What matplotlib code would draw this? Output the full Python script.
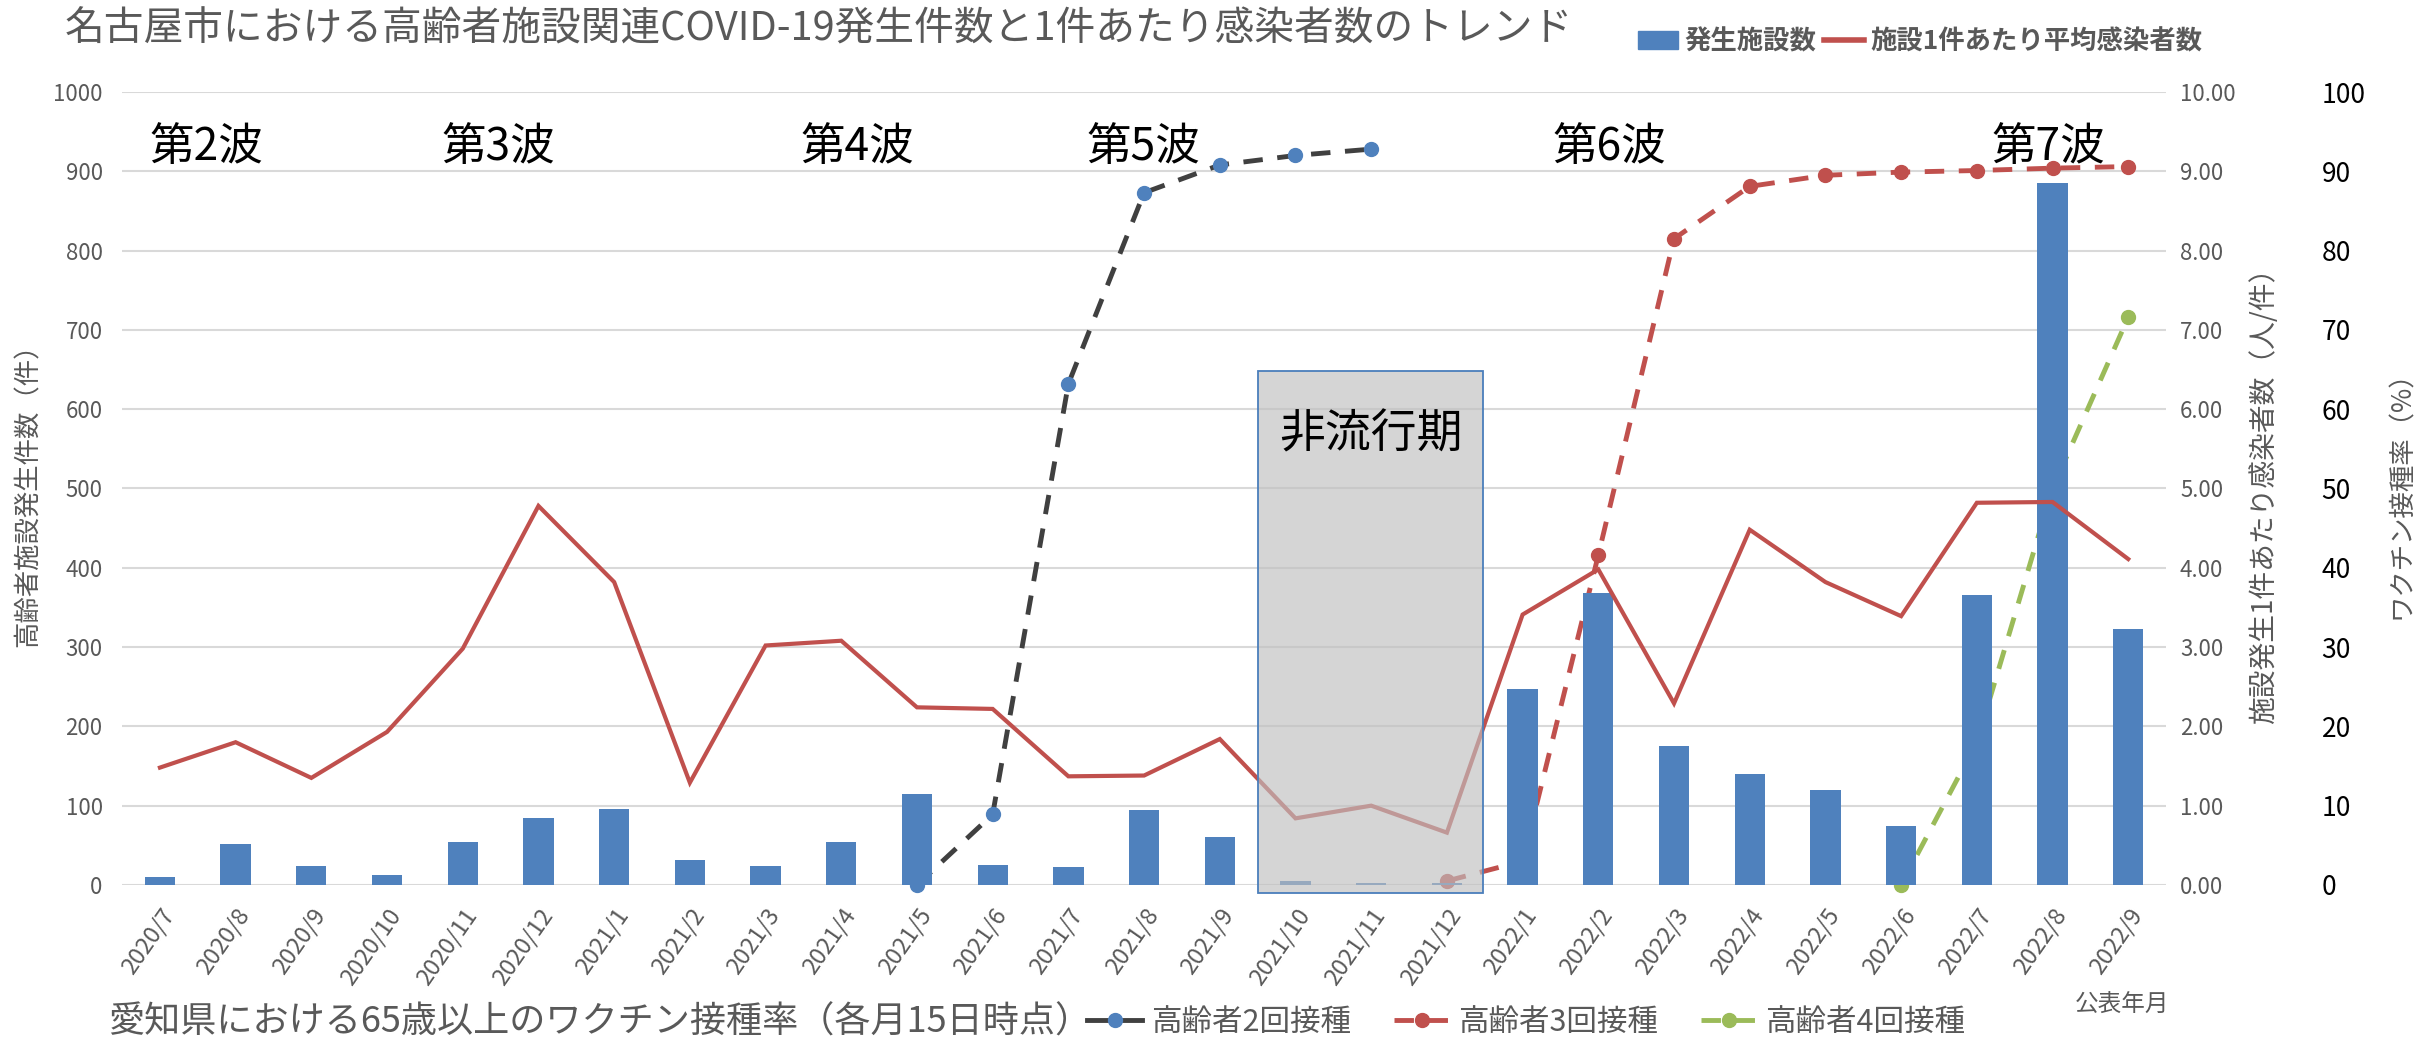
import numpy as np
import matplotlib
matplotlib.use('Agg')
import matplotlib.pyplot as plt
from matplotlib.patches import Patch, Rectangle
from matplotlib.lines import Line2D

plt.rcParams['font.family'] = ['Noto Sans CJK JP', 'DejaVu Sans']

months = ['2020/7', '2020/8', '2020/9', '2020/10', '2020/11', '2020/12',
          '2021/1', '2021/2', '2021/3', '2021/4', '2021/5', '2021/6',
          '2021/7', '2021/8', '2021/9', '2021/10', '2021/11', '2021/12',
          '2022/1', '2022/2', '2022/3', '2022/4', '2022/5', '2022/6',
          '2022/7', '2022/8', '2022/9']

# 発生施設数（件）
facilities = [10, 52, 24, 12, 54, 84, 96, 32, 24, 54, 115, 25, 23, 95, 60,
              5, 3, 2, 247, 368, 175, 140, 120, 74, 366, 885, 323]

# 施設1件あたり平均感染者数（人/件）
avg_cases = [1.48, 1.80, 1.35, 1.93, 2.98, 4.78, 3.82, 1.29, 3.02, 3.08,
             2.24, 2.22, 1.37, 1.38, 1.84, 0.84, 1.00, 0.66, 3.41, 3.98,
             2.29, 4.48, 3.82, 3.39, 4.82, 4.83, 4.11]

nan = np.nan
# ワクチン接種率（%）
dose2 = [nan] * 10 + [0.0, 8.9, 63.2, 87.3, 90.8, 92.0, 92.8] + [nan] * 10
dose3 = [nan] * 17 + [0.5, 3.0, 41.6, 81.5, 88.1, 89.5, 89.9, 90.1, 90.4, 90.6]
dose4 = [nan] * 23 + [0.0, 18.0, 50.0, 71.6]

wave_labels = ['第2波', '第3波', '第4波', '第5波', '第6波', '第7波']
wave_x = [0.61, 4.47, 9.21, 12.99, 19.14, 24.95]

BLUE = '#4f81bd'
RED = '#c0504d'
DARK = '#404040'
GREEN = '#9bbb59'
GRAY = '#595959'

x = np.arange(len(months))

fig = plt.figure(figsize=(24.27, 10.41), dpi=100)
ax1 = fig.add_axes([0.0503, 0.1499, 0.8422, 0.7617])
ax2 = ax1.twinx()
ax3 = ax1.twinx()

# vaccination lines sit behind the bars, the red line above them
ax3.set_zorder(1)
ax1.set_zorder(2)
ax2.set_zorder(3)
for a in (ax1, ax2, ax3):
    a.patch.set_visible(False)
    for s in a.spines.values():
        s.set_visible(False)

dash = (4, 3)
ax3.plot(x, dose2, color=DARK, lw=3.5, dashes=dash, marker='o', ms=10,
         mfc=BLUE, mec=BLUE, clip_on=False)
ax3.plot(x, dose3, color=RED, lw=3.5, dashes=dash, marker='o', ms=10,
         mfc=RED, mec=RED, clip_on=False)
ax3.plot(x, dose4, color=GREEN, lw=3.5, dashes=dash, marker='o', ms=10,
         mfc=GREEN, mec=GREEN, clip_on=False)
ax3.set_ylim(0, 100)
ax3.set_yticks(np.arange(0, 101, 10))
ax3.yaxis.grid(True, color='#d9d9d9', lw=1.5)
ax3.set_axisbelow(True)
ax3.spines['right'].set_position(('axes', 1.0734))
ax3.tick_params(axis='y', length=0, pad=4, labelsize=19, labelcolor='black')
ax3.set_ylabel('ワクチン接種率（%）', fontsize=19, color=GRAY, labelpad=16)

# facilities bars
ax1.bar(x, facilities, width=0.4, color=BLUE, zorder=2)
ax1.set_xlim(-0.5, len(months) - 0.5)
ax1.set_ylim(0, 1000)
ax1.set_yticks(np.arange(0, 1001, 100))
ax1.tick_params(axis='y', length=0, pad=14, labelsize=16, labelcolor=GRAY)
ax1.set_xticks(x)
ax1.set_xticklabels(months, rotation=55, ha='right', rotation_mode='anchor',
                    fontsize=17, color=GRAY)
ax1.tick_params(axis='x', length=0, pad=14)
ax1.set_ylabel('高齢者施設発生件数（件）', fontsize=19, color=GRAY, labelpad=8)

# average cases line
ax2.plot(x, avg_cases, color=RED, lw=3, solid_joinstyle='miter')
ax2.set_ylim(0, 10)
ax2.set_yticks(np.arange(0, 11, 1))
ax2.set_yticklabels([f'{v:.2f}' for v in np.arange(0, 11, 1)])
ax2.tick_params(axis='y', length=0, pad=10, labelsize=16, labelcolor=GRAY)
ax2.set_ylabel('施設発生1件あたり感染者数（人/件）', fontsize=20, color=GRAY,
               labelpad=10)

# wave labels
for lab, wx in zip(wave_labels, wave_x):
    ax2.text(wx, 9.31, lab, fontsize=32, color='black', ha='center', va='center')

# non-epidemic period box
box = Rectangle((14.51, -0.1), 2.97, 6.58, facecolor='#bfbfbf', alpha=0.65,
                edgecolor='none', clip_on=False, zorder=10)
ax2.add_patch(box)
edge = Rectangle((14.51, -0.1), 2.97, 6.58, facecolor='none',
                 edgecolor='#4a7ebb', lw=1.3, clip_on=False, zorder=11)
ax2.add_patch(edge)
ax2.text(15.99, 5.69, '非流行期', fontsize=33, color='black', ha='center',
         va='center', zorder=12)

# titles and legends
fig.text(0.0268, 0.972, '名古屋市における高齢者施設関連COVID-19発生件数と1件あたり感染者数のトレンド',
         fontsize=28.6, color=GRAY, va='center', ha='left')

top_handles = [Patch(color=BLUE), Line2D([], [], color=RED, lw=4)]
fig.legend(top_handles, ['発生施設数', '施設1件あたり平均感染者数'],
           loc='center left', bbox_to_anchor=(0.675, 0.96), ncol=2,
           frameon=False, prop=dict(size=19, weight='bold'),
           labelcolor=GRAY, handlelength=1.5, handletextpad=0.25,
           columnspacing=0.3, borderpad=0, borderaxespad=0)

fig.text(0.0445, 0.018, '愛知県における65歳以上のワクチン接種率（各月15日時点）',
         fontsize=26, color=GRAY, va='center', ha='left')

vac_handles = [
    Line2D([], [], color=DARK, lw=3.5, marker='o', ms=10, mfc=BLUE, mec=BLUE),
    Line2D([], [], color=RED, lw=3.5, dashes=dash, marker='o', ms=10, mfc=RED, mec=RED),
    Line2D([], [], color=GREEN, lw=3.5, dashes=dash, marker='o', ms=10, mfc=GREEN, mec=GREEN),
]
fig.legend(vac_handles, ['高齢者2回接種', '高齢者3回接種', '高齢者4回接種'],
           loc='center left', bbox_to_anchor=(0.448, 0.018), ncol=3,
           frameon=False, fontsize=22, labelcolor=GRAY, handlelength=1.8,
           handletextpad=0.3, columnspacing=1.4, borderpad=0, borderaxespad=0)

fig.text(0.855, 0.034, '公表年月', fontsize=17, color=GRAY, va='center', ha='left')

plt.savefig('out.png', dpi=100)
plt.close()
